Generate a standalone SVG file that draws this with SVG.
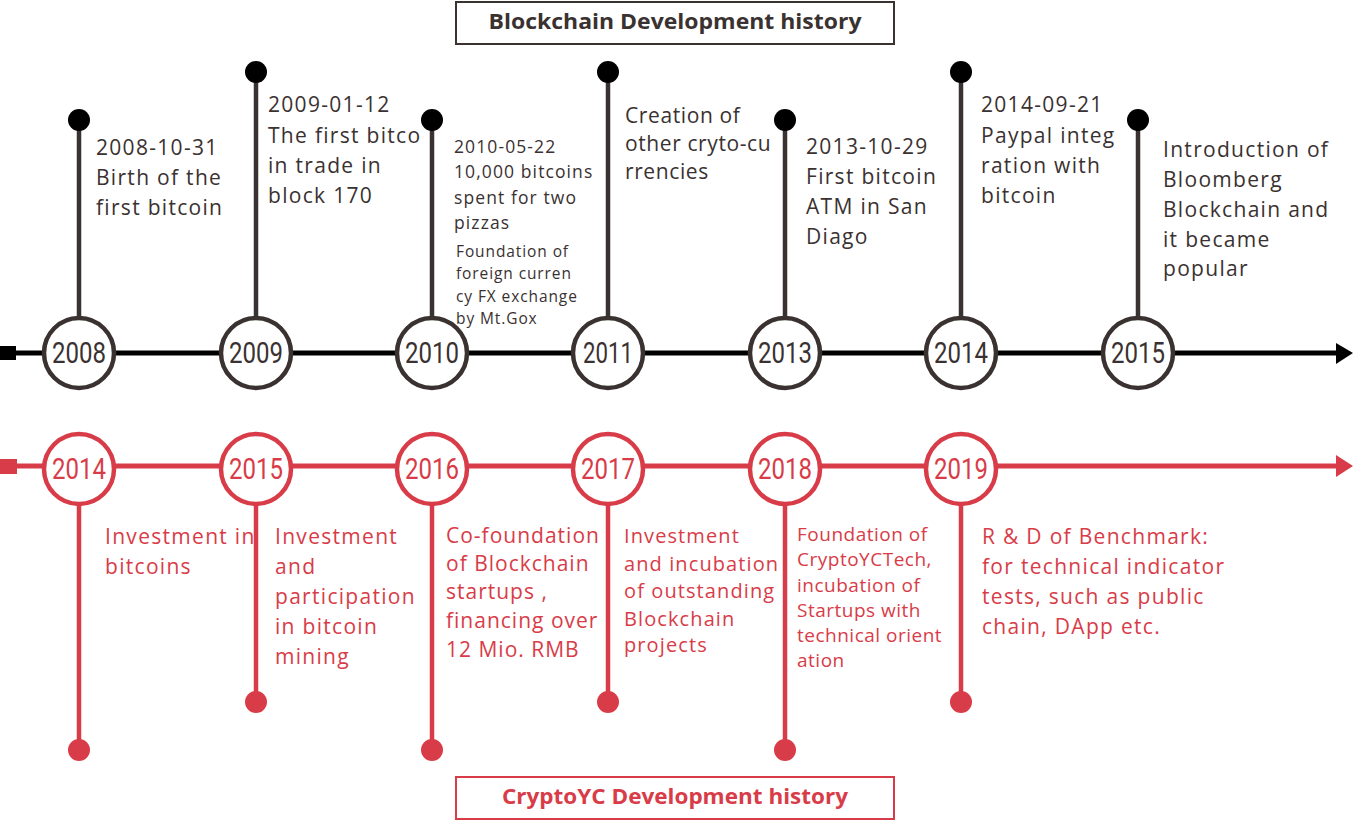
<svg xmlns="http://www.w3.org/2000/svg" width="1354" height="821" viewBox="0 0 1354 821">
<style>
.bg{fill:#ffffff}
.axisK{stroke:#000;stroke-width:5;fill:none}
.axisR{stroke:#d83c48;stroke-width:5;fill:none}
.stemK{stroke:#3a3131;stroke-width:4.5}
.stemR{stroke:#d83c48;stroke-width:4.5}
.dotK{fill:#000}
.dotR{fill:#d83c48}
.ringK{fill:#fff;stroke:#3a3131;stroke-width:4.5}
.ringR{fill:#fff;stroke:#d83c48;stroke-width:4.5}
.yearK{font-family:"Roboto","Liberation Sans",sans-serif;font-size:29px;fill:#3a3131;text-anchor:middle}
.yearR{font-family:"Roboto","Liberation Sans",sans-serif;font-size:29px;fill:#d83c48;text-anchor:middle}
.t{font-family:"Open Sans","Noto Sans",sans-serif;font-size:21px;letter-spacing:1.3px;fill:#3a3131}
.ts{font-family:"Open Sans","Noto Sans",sans-serif;font-size:17.5px;letter-spacing:1.1px;fill:#3a3131}
.tss{font-family:"Open Sans","Noto Sans",sans-serif;font-size:15.5px;letter-spacing:0.9px;fill:#3a3131}
.r{font-family:"Open Sans","Noto Sans",sans-serif;font-size:21px;letter-spacing:1.3px;fill:#d83c48}
.rm{font-family:"Open Sans","Noto Sans",sans-serif;font-size:20px;letter-spacing:1.1px;fill:#d83c48}
.rs{font-family:"Open Sans","Noto Sans",sans-serif;font-size:19px;letter-spacing:0.5px;fill:#d83c48}
.titleK{font-family:"Open Sans","Noto Sans",sans-serif;font-size:21px;font-weight:bold;fill:#3a3131;text-anchor:middle}
.titleR{font-family:"Open Sans","Noto Sans",sans-serif;font-size:21px;font-weight:bold;fill:#d83c48;text-anchor:middle}
</style>
<rect class="bg" x="0" y="0" width="1354" height="821"/>

<g id="connectors">
  <rect x="0" y="346" width="16" height="14" fill="#000"/>
  <line class="axisK" x1="10" y1="353" x2="1340" y2="353"/>
  <polygon points="1336,343 1353,353 1336,364" fill="#000"/>
  <rect x="0" y="459" width="17" height="15" fill="#d83c48"/>
  <line class="axisR" x1="10" y1="466" x2="1340" y2="466"/>
  <polygon points="1336,455 1353,466 1336,477" fill="#d83c48"/>
</g>

<g id="title-top">
  <rect x="456" y="2" width="438" height="42" fill="none" stroke="#3a3131" stroke-width="2"/>
  <text class="titleK" x="675" y="29" textLength="373" lengthAdjust="spacingAndGlyphs">Blockchain Development history</text>
</g>

<g id="k2008">
  <line class="stemK" x1="79" y1="120" x2="79" y2="318"/>
  <circle class="dotK" cx="79" cy="120" r="11"/>
  <circle class="ringK" cx="79" cy="353" r="35"/>
  <text class="yearK" x="79" y="363" textLength="54" lengthAdjust="spacingAndGlyphs">2008</text>
  <text class="t" x="96" y="155">2008-10-31</text>
  <text class="t" x="96" y="185">Birth of the</text>
  <text class="t" x="96" y="215">first bitcoin</text>
</g>
<g id="k2009">
  <line class="stemK" x1="256" y1="72" x2="256" y2="318"/>
  <circle class="dotK" cx="256" cy="72" r="11"/>
  <circle class="ringK" cx="256" cy="353" r="35"/>
  <text class="yearK" x="256" y="363" textLength="54" lengthAdjust="spacingAndGlyphs">2009</text>
  <text class="t" x="268" y="112">2009-01-12</text>
  <text class="t" x="268" y="143">The first bitco</text>
  <text class="t" x="268" y="173">in trade in</text>
  <text class="t" x="268" y="203">block 170</text>
</g>
<g id="k2010">
  <line class="stemK" x1="432" y1="120" x2="432" y2="318"/>
  <circle class="dotK" cx="432" cy="120" r="11"/>
  <circle class="ringK" cx="432" cy="353" r="35"/>
  <text class="yearK" x="432" y="363" textLength="54" lengthAdjust="spacingAndGlyphs">2010</text>
  <text class="ts" x="454" y="153">2010-05-22</text>
  <text class="ts" x="454" y="178">10,000 bitcoins</text>
  <text class="ts" x="454" y="204">spent for two</text>
  <text class="ts" x="454" y="229">pizzas</text>
  <text class="tss" x="456" y="257">Foundation of</text>
  <text class="tss" x="456" y="279">foreign curren</text>
  <text class="tss" x="456" y="302">cy FX exchange</text>
  <text class="tss" x="456" y="324">by Mt.Gox</text>
</g>
<g id="k2011">
  <line class="stemK" x1="608" y1="72" x2="608" y2="318"/>
  <circle class="dotK" cx="608" cy="72" r="11"/>
  <circle class="ringK" cx="608" cy="353" r="35"/>
  <text class="yearK" x="608" y="363" textLength="50" lengthAdjust="spacingAndGlyphs">2011</text>
  <text class="t" x="625" y="123" style="letter-spacing:0.6px">Creation of</text>
  <text class="t" x="625" y="151" style="letter-spacing:0.6px">other cryto-cu</text>
  <text class="t" x="625" y="179" style="letter-spacing:0.6px">rrencies</text>
</g>
<g id="k2013">
  <line class="stemK" x1="785" y1="120" x2="785" y2="318"/>
  <circle class="dotK" cx="785" cy="120" r="11"/>
  <circle class="ringK" cx="785" cy="353" r="35"/>
  <text class="yearK" x="785" y="363" textLength="54" lengthAdjust="spacingAndGlyphs">2013</text>
  <text class="t" x="806" y="154">2013-10-29</text>
  <text class="t" x="806" y="184">First bitcoin</text>
  <text class="t" x="806" y="214">ATM in San</text>
  <text class="t" x="806" y="244">Diago</text>
</g>
<g id="k2014">
  <line class="stemK" x1="961" y1="72" x2="961" y2="318"/>
  <circle class="dotK" cx="961" cy="72" r="11"/>
  <circle class="ringK" cx="961" cy="353" r="35"/>
  <text class="yearK" x="961" y="363" textLength="54" lengthAdjust="spacingAndGlyphs">2014</text>
  <text class="t" x="981" y="112">2014-09-21</text>
  <text class="t" x="981" y="143">Paypal integ</text>
  <text class="t" x="981" y="173">ration with</text>
  <text class="t" x="981" y="203">bitcoin</text>
</g>
<g id="k2015">
  <line class="stemK" x1="1138" y1="120" x2="1138" y2="318"/>
  <circle class="dotK" cx="1138" cy="120" r="11"/>
  <circle class="ringK" cx="1138" cy="353" r="35"/>
  <text class="yearK" x="1138" y="363" textLength="54" lengthAdjust="spacingAndGlyphs">2015</text>
  <text class="t" x="1163" y="157">Introduction of</text>
  <text class="t" x="1163" y="187">Bloomberg</text>
  <text class="t" x="1163" y="217">Blockchain and</text>
  <text class="t" x="1163" y="247">it became</text>
  <text class="t" x="1163" y="276">popular</text>
</g>

<g id="r2014">
  <line class="stemR" x1="79" y1="505" x2="79" y2="750"/>
  <circle class="dotR" cx="79" cy="750" r="11"/>
  <circle class="ringR" cx="79" cy="469" r="35"/>
  <text class="yearR" x="79" y="479" textLength="54" lengthAdjust="spacingAndGlyphs">2014</text>
  <text class="r" x="105" y="544">Investment in</text>
  <text class="r" x="105" y="574">bitcoins</text>
</g>
<g id="r2015">
  <line class="stemR" x1="256" y1="505" x2="256" y2="702"/>
  <circle class="dotR" cx="256" cy="702" r="11"/>
  <circle class="ringR" cx="256" cy="469" r="35"/>
  <text class="yearR" x="256" y="479" textLength="54" lengthAdjust="spacingAndGlyphs">2015</text>
  <text class="r" x="275" y="544">Investment</text>
  <text class="r" x="275" y="574">and</text>
  <text class="r" x="275" y="604">participation</text>
  <text class="r" x="275" y="634">in bitcoin</text>
  <text class="r" x="275" y="664">mining</text>
</g>
<g id="r2016">
  <line class="stemR" x1="432" y1="505" x2="432" y2="750"/>
  <circle class="dotR" cx="432" cy="750" r="11"/>
  <circle class="ringR" cx="432" cy="469" r="35"/>
  <text class="yearR" x="432" y="479" textLength="54" lengthAdjust="spacingAndGlyphs">2016</text>
  <text class="r" x="446" y="543" style="letter-spacing:1px">Co-foundation</text>
  <text class="r" x="446" y="571" style="letter-spacing:1px">of Blockchain</text>
  <text class="r" x="446" y="599" style="letter-spacing:1px">startups ,</text>
  <text class="r" x="446" y="628" style="letter-spacing:1px">financing over</text>
  <text class="r" x="446" y="657" style="letter-spacing:1px">12 Mio. RMB</text>
</g>
<g id="r2017">
  <line class="stemR" x1="608" y1="505" x2="608" y2="702"/>
  <circle class="dotR" cx="608" cy="702" r="11"/>
  <circle class="ringR" cx="608" cy="469" r="35"/>
  <text class="yearR" x="608" y="479" textLength="54" lengthAdjust="spacingAndGlyphs">2017</text>
  <text class="rm" x="624" y="543">Investment</text>
  <text class="rm" x="624" y="571">and incubation</text>
  <text class="rm" x="624" y="598">of outstanding</text>
  <text class="rm" x="624" y="626">Blockchain</text>
  <text class="rm" x="624" y="652">projects</text>
</g>
<g id="r2018">
  <line class="stemR" x1="785" y1="505" x2="785" y2="750"/>
  <circle class="dotR" cx="785" cy="750" r="11"/>
  <circle class="ringR" cx="785" cy="469" r="35"/>
  <text class="yearR" x="785" y="479" textLength="54" lengthAdjust="spacingAndGlyphs">2018</text>
  <text class="rs" x="797" y="541">Foundation of</text>
  <text class="rs" x="797" y="566">CryptoYCTech,</text>
  <text class="rs" x="797" y="592">incubation of</text>
  <text class="rs" x="797" y="617">Startups with</text>
  <text class="rs" x="797" y="642">technical orient</text>
  <text class="rs" x="797" y="667">ation</text>
</g>
<g id="r2019">
  <line class="stemR" x1="961" y1="505" x2="961" y2="702"/>
  <circle class="dotR" cx="961" cy="702" r="11"/>
  <circle class="ringR" cx="961" cy="469" r="35"/>
  <text class="yearR" x="961" y="479" textLength="54" lengthAdjust="spacingAndGlyphs">2019</text>
  <text class="r" x="982" y="544">R &amp; D of Benchmark:</text>
  <text class="r" x="982" y="574">for technical indicator</text>
  <text class="r" x="982" y="604">tests, such as public</text>
  <text class="r" x="982" y="634">chain, DApp etc.</text>
</g>

<g id="title-bottom">
  <rect x="456" y="777" width="438" height="42" fill="none" stroke="#d83c48" stroke-width="2"/>
  <text class="titleR" x="675" y="804" textLength="346" lengthAdjust="spacingAndGlyphs">CryptoYC Development history</text>
</g>
</svg>
